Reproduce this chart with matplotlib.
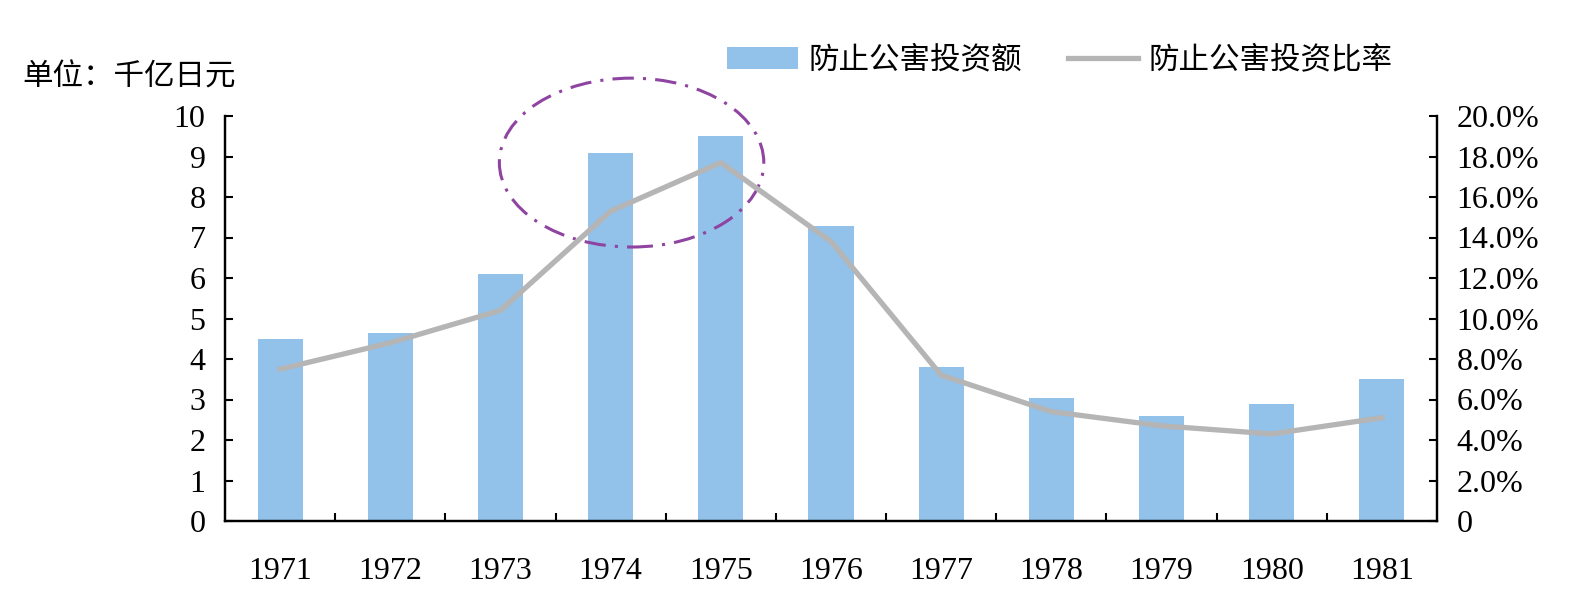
import matplotlib
matplotlib.use("Agg")
import matplotlib.pyplot as plt
from matplotlib.patches import Ellipse
from matplotlib.ticker import FuncFormatter, FixedLocator

plt.rcParams['font.family'] = ['Liberation Serif', 'Noto Sans CJK SC', 'DejaVu Sans']

years = ['1971', '1972', '1973', '1974', '1975', '1976', '1977', '1978', '1979', '1980', '1981']
invest = [4.5, 4.65, 6.1, 9.09, 9.5, 7.28, 3.8, 3.03, 2.6, 2.88, 3.5]
ratio = [7.5, 8.8, 10.4, 15.3, 17.7, 13.8, 7.2, 5.4, 4.7, 4.3, 5.1]
bar_label = '防止公害投资额'
line_label = '防止公害投资比率'
unit_label = '单位：千亿日元'

W, H = 1576, 609
fig = plt.figure(figsize=(W / 100, H / 100), dpi=100)
ax = fig.add_axes([225 / W, 1 - 521 / H, (1437 - 225) / W, (521 - 116) / H])
ax2 = ax.twinx()

x = list(range(len(years)))
bars = ax.bar(x, invest, width=0.41, color='#92C1E9', linewidth=0, label=bar_label, zorder=2)
line, = ax2.plot(x, ratio, color='#B5B5B5', lw=3.8, label=line_label, zorder=3)

ax.set_xlim(-0.5, len(years) - 0.5)
ax.set_ylim(0, 10)
ax2.set_ylim(0, 20)
ax.set_yticks(range(0, 11))
ax2.set_yticks(range(0, 21, 2))
ax2.yaxis.set_major_formatter(FuncFormatter(lambda v, p: '0' if v == 0 else f'{v:.1f}%'))

ax.set_xticks(x)
ax.set_xticklabels(years)
ax.xaxis.set_minor_locator(FixedLocator([i + 0.5 for i in range(len(years) - 1)]))
ax.tick_params(axis='x', which='major', length=0, pad=26, labelsize=23)
ax.tick_params(axis='x', which='minor', direction='in', length=6, width=1.5)
ax.tick_params(axis='y', direction='in', length=6, width=1.5, pad=14, labelsize=23)
ax2.tick_params(axis='y', direction='in', length=6, width=1.5, pad=14, labelsize=23)

for a in (ax, ax2):
    a.spines['top'].set_visible(False)
    for s in ('left', 'right', 'bottom'):
        a.spines[s].set_linewidth(1.6)
        a.spines[s].set_color('black')

ell = Ellipse((3.19, 8.85), width=2.4, height=4.17, fill=False,
              edgecolor='#8E44A0', lw=2.2, linestyle=(0, (7, 3, 1, 3)),
              clip_on=False, zorder=5)
ax.add_patch(ell)

fig.text(22 / W, 1 - 78 / H, unit_label, fontsize=22, va='center', ha='left')

fig.legend(handles=[bars, line], labels=[bar_label, line_label], loc='center',
           bbox_to_anchor=(1060 / W, 1 - 61 / H), ncol=2, frameon=False,
           fontsize=22, handlelength=2.3, handletextpad=0.35, columnspacing=1.5)

fig.savefig('out.png', dpi=100)
